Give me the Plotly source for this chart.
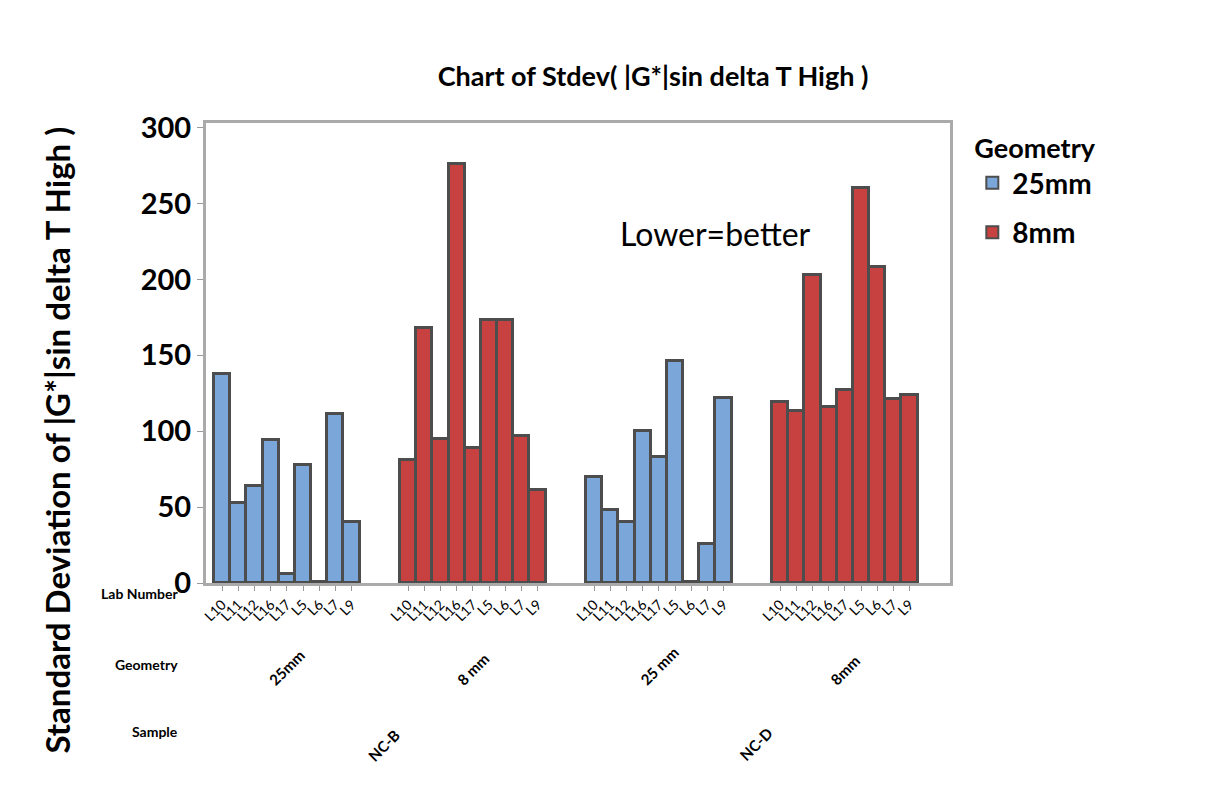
import plotly.graph_objects as go

labs = ["L10", "L11", "L12", "L16", "L17", "L5", "L6", "L7", "L9"]
groups = [("NC-B", "25mm"), ("NC-B", "8mm"), ("NC-D", "25mm"), ("NC-D", "8mm")]
geo_labels = ["25mm", "8 mm", "25 mm", "8mm"]
samples = ["NC-B", "NC-D"]
vals_ncb_25 = [138, 53, 64, 94, 6, 78, 0.5, 111, 40]
vals_ncb_8 = [81, 168, 95, 276, 89, 173, 173, 97, 61]
vals_ncd_25 = [70, 48, 40, 100, 83, 146, 0.5, 26, 122]
vals_ncd_8 = [119, 113, 203, 116, 127, 260, 208, 121, 124]
series = [vals_ncb_25, vals_ncb_8, vals_ncd_25, vals_ncd_8]
colors = {"25mm": "#7BA6DA", "8mm": "#C84141"}
offsets = [0, 11.5, 23, 34.5]

fig = go.Figure()
shown = set()
tv, tt = [], []
for (s, g), v, off in zip(groups, series, offsets):
    xs = [off + i for i in range(len(labs))]
    tv += xs
    tt += labs
    fig.add_trace(go.Bar(x=xs, y=v, width=1, name=g, legendgroup=g,
                         showlegend=g not in shown,
                         marker=dict(color=colors[g], line=dict(color="#4D4D4D", width=3))))
    shown.add(g)

ann = []
for gl, off in zip(geo_labels, offsets):
    ann.append(dict(x=off + 4, y=-0.235, xref="x", yref="paper", text="<b>" + gl + "</b>", showarrow=False,
                    textangle=-45, font=dict(size=15, color="black")))
for i, sm in enumerate(samples):
    ann.append(dict(x=offsets[2 * i] + 10, y=-0.4, xref="x", yref="paper", text="<b>" + sm + "</b>", showarrow=False,
                    textangle=-45, font=dict(size=15, color="black")))
for txt, yy in [("Lab Number", -0.045), ("Geometry", -0.2), ("Sample", -0.345)]:
    ann.append(dict(x=-0.035, y=yy, xref="paper", yref="paper", text="<b>" + txt + "</b>", showarrow=False,
                    xanchor="right", font=dict(size=14, color="black")))
ann.append(dict(x=24.5, y=230, xref="x", yref="y", text="Lower=better", showarrow=False,
                xanchor="left", font=dict(size=32, color="black")))
ann.append(dict(x=-0.2, y=0.31, xref="paper", yref="paper", xanchor="center", yanchor="middle",
                text="<b>Standard Deviation of |G*|sin delta T High )</b>", showarrow=False,
                textangle=-90, font=dict(size=33, color="black")))

fig.update_layout(
    width=1217, height=793, plot_bgcolor="white", paper_bgcolor="white",
    font=dict(family="Lato", color="black"),
    title=dict(text="<b>Chart of Stdev( |G*|sin delta T High )</b>", x=0.53, xanchor="center",
               y=0.925, font=dict(size=27)),
    margin=dict(l=198, r=275, t=115, b=218),
    bargap=0,
    xaxis=dict(range=[-1, 45], tickvals=tv, ticktext=tt, tickangle=-45, ticks="outside",
               ticklen=5, tickcolor="#999", tickfont=dict(size=14), showline=True,
               linecolor="#AAAAAA", linewidth=3, mirror=True, showgrid=False),
    yaxis=dict(range=[0, 303], tickvals=[0, 50, 100, 150, 200, 250, 300],
               ticktext=["<b>%d</b>" % t for t in [0, 50, 100, 150, 200, 250, 300]], ticks="outside",
               ticklen=6, tickcolor="#999", tickfont=dict(size=29), showline=True,
               linecolor="#AAAAAA", linewidth=3, mirror=True, showgrid=False),
    legend=dict(x=1.03, y=1.0, yanchor="top", title=dict(text="<b>Geometry</b>", font=dict(size=27)),
                font=dict(size=28), itemsizing="constant"),
    annotations=ann,
)
fig.for_each_trace(lambda t: t.update(name="<b>" + t.name + "</b>"))
fig.write_html("out.html")
